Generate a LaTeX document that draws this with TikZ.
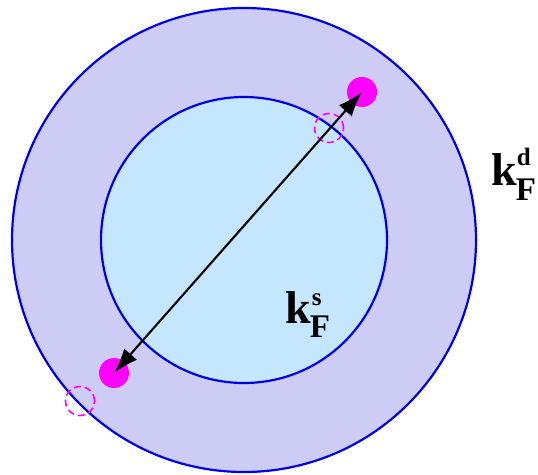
\documentclass[tikz,border=0pt]{standalone}
\usepackage{fontspec}
\setmainfont{Liberation Serif}
\usetikzlibrary{arrows.meta}
\definecolor{outerfill}{RGB}{204,204,245}
\definecolor{innerfill}{RGB}{196,230,255}
\definecolor{ringblue}{RGB}{0,0,230}
\definecolor{mag}{RGB}{255,0,255}
\tikzset{
  ring/.style={draw=ringblue, line width=2.2pt},
  dot/.style={circle, fill=mag, inner sep=0pt, minimum size=30pt},
  ghost/.style={circle, draw=mag, dash pattern=on 7pt off 4pt, line width=1.6pt, inner sep=0pt, minimum size=29pt},
  arr/.style={line width=2.1pt, {Latex[length=25pt,width=17pt]}-{Latex[length=25pt,width=17pt]}},
  lbl/.style={anchor=base west, inner sep=0pt, font=\bfseries}
}
\newcommand{\kbig}[1]{{\fontsize{46}{46}\selectfont #1}}
\newcommand{\ksub}[1]{{\fontsize{33}{33}\selectfont #1}}
\newcommand{\ksup}[1]{{\fontsize{25}{25}\selectfont #1}}
\begin{document}
\begin{tikzpicture}[x=1pt,y=-1pt]
\useasboundingbox (0,0) rectangle (538,474);
\draw[ring, fill=outerfill] (244,240) circle (232);
\draw[ring, fill=innerfill] (244,240) circle (143);
\node[ghost] (g1) at (329,128) {};
\node[ghost] (g2) at (80,401) {};
\node[dot] (d1) at (362,92) {};
\node[dot] (d2) at (114,373) {};
\draw[arr] (d1.center) -- (d2.center);
\node[lbl] (kd) at (491,185) {\kbig{k}\hspace{-1pt}\rlap{\raisebox{20pt}{\hspace{1pt}\ksup{d}}}\raisebox{-15pt}{\ksub{F}}};
\node[lbl] (ks) at (285,323) {\kbig{k}\hspace{-1pt}\rlap{\raisebox{18pt}{\hspace{2pt}\ksup{s}}}\raisebox{-14pt}{\ksub{F}}};
\end{tikzpicture}
\end{document}
